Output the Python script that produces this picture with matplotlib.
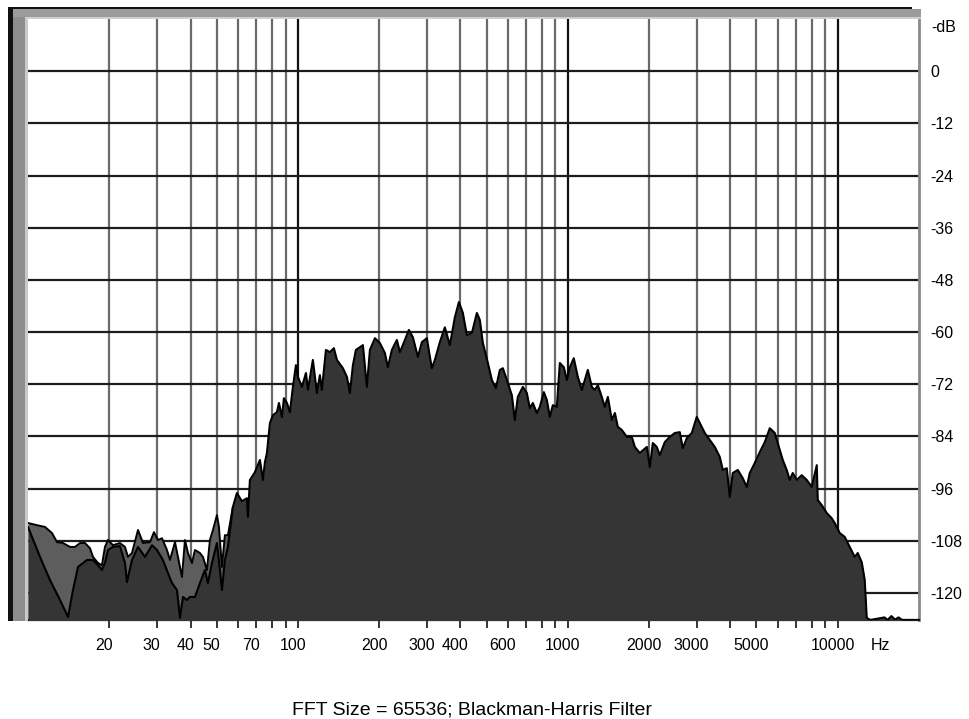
import matplotlib
matplotlib.use("Agg")
import matplotlib.pyplot as plt
import matplotlib.transforms as mtransforms
from matplotlib.patches import Rectangle
from matplotlib.ticker import NullLocator

plt.rcParams['font.family'] = ['Liberation Sans', 'DejaVu Sans']

# --- data (Hz / dB) ---
# main spectrum (dark fill)
freq = [10.0, 11.08, 12.06, 13.14, 14.07, 14.68, 15.32, 16.54, 17.41, 18.17,
        18.79, 19.28, 19.79, 20.65, 21.92, 22.87, 23.26, 24.28, 25.56, 27.13,
        28.80, 30.05, 31.62, 33.00, 34.15, 35.64, 36.56, 37.51, 38.81, 39.81,
        41.55, 43.36, 45.25, 46.42, 48.03, 50.12, 51.42, 52.30, 53.64, 55.04,
        57.43, 59.43, 62.02, 64.72, 65.28, 66.40, 69.30, 72.32, 74.19, 75.47,
        76.77, 78.76, 80.81, 83.62, 85.06, 87.26, 88.76, 91.06, 93.40, 95.83,
        98.31, 100.0, 103.5, 107.1, 108.9, 113.6, 115.6, 117.6, 120.6, 122.7,
        127.0, 131.4, 135.9, 139.5, 146.8, 151.9, 155.8, 159.9, 164.0, 174.1,
        180.1, 184.8, 192.9, 201.2, 210.0, 215.4, 222.9, 232.6, 238.7, 244.8,
        257.7, 266.7, 278.3, 288.0, 300.5, 308.3, 313.6, 321.7, 335.7, 350.3,
        365.6, 381.5, 394.8, 408.5, 422.6, 441.1, 460.3, 472.1, 484.4, 505.6,
        523.0, 541.2, 560.0, 574.5, 594.4, 620.3, 636.4, 652.8, 681.3, 704.9,
        723.2, 742.0, 767.7, 787.6, 814.9, 836.0, 857.7, 879.9, 910.5, 934.1,
        966.5, 991.5, 1017, 1052, 1089, 1127, 1156, 1186, 1227, 1259,
        1292, 1336, 1371, 1407, 1455, 1494, 1532, 1585, 1654, 1726,
        1771, 1848, 1962, 2013, 2065, 2136, 2192, 2287, 2387, 2491,
        2599, 2667, 2759, 2879, 3004, 3082, 3217, 3357, 3503, 3656,
        3751, 3881, 3981, 4084, 4263, 4448, 4603, 4722, 4927, 5142,
        5366, 5600, 5843, 5995, 6256, 6472, 6640, 6813, 7050, 7356,
        7678, 8012, 8361, 8432, 8726, 9105, 9501, 9747, 10172, 10615,
        11076, 11558, 11858, 12271, 12589, 12805, 13200, 14900, 15300, 15800,
        16300, 16800, 17300, 20000]
level = [-104.8, -111.7, -117.0, -121.6, -125.5, -119.3, -114.0, -112.4, -112.4, -113.6,
         -114.7, -113.1, -110.1, -109.4, -109.2, -113.1, -117.5, -112.4, -109.4, -111.7,
         -109.0, -110.1, -112.4, -115.4, -117.7, -119.3, -125.7, -120.9, -121.6, -120.9,
         -120.9, -117.7, -114.7, -117.7, -113.1, -108.5, -114.7, -119.3, -112.4, -109.4,
         -100.2, -97.0, -98.9, -98.2, -102.5, -94.0, -92.2, -89.4, -94.0, -89.9,
         -87.8, -80.9, -79.1, -78.4, -76.3, -79.5, -75.2, -76.3, -78.4, -72.6,
         -67.6, -70.3, -72.6, -69.4, -73.3, -66.4, -70.3, -74.0, -69.9, -73.3,
         -64.1, -64.6, -63.7, -66.4, -68.3, -70.3, -74.0, -67.6, -64.1, -63.0,
         -72.6, -64.1, -61.4, -62.5, -64.8, -68.1, -64.1, -61.8, -64.6, -63.0,
         -59.5, -61.2, -65.7, -62.3, -61.4, -65.7, -68.3, -66.4, -62.3, -58.9,
         -63.0, -56.6, -53.1, -55.6, -60.7, -60.2, -55.6, -57.2, -62.5, -67.1,
         -71.0, -72.9, -68.7, -68.3, -71.0, -74.5, -80.2, -74.9, -72.6, -74.0,
         -77.5, -76.3, -78.6, -77.2, -73.8, -75.6, -79.5, -76.8, -77.2, -67.1,
         -68.1, -71.0, -68.1, -66.0, -70.3, -73.3, -71.0, -68.7, -72.6, -73.3,
         -72.2, -74.9, -77.2, -74.9, -80.2, -78.6, -81.8, -82.5, -84.1, -84.1,
         -86.4, -87.8, -86.4, -91.0, -85.5, -86.4, -88.3, -85.3, -84.1, -83.2,
         -83.0, -86.7, -84.4, -83.2, -79.5, -80.9, -83.2, -84.8, -86.4, -88.7,
         -91.7, -91.3, -97.9, -92.4, -91.7, -93.6, -95.6, -92.4, -90.1, -87.6,
         -85.3, -82.1, -83.2, -85.5, -89.4, -91.7, -94.0, -92.4, -94.0, -92.9,
         -94.0, -95.6, -90.6, -98.6, -99.8, -101.6, -102.8, -103.9, -106.2, -107.1,
         -109.4, -111.7, -110.8, -112.9, -117.0, -125.7, -126.2, -125.6, -126.2, -125.3,
         -126.1, -125.6, -126.2, -126.2]

# peak trace (lighter fill), only separate from the main one below ~60 Hz
peak_freq = [10.0, 10.80, 11.56, 12.27, 12.81, 13.48, 14.31, 14.94, 15.58, 16.26,
             16.97, 17.41, 18.17, 18.79, 19.28, 19.79, 20.65, 21.92, 22.87, 23.46,
             24.28, 25.56, 26.67, 28.31, 29.29, 30.31, 31.36, 32.72, 33.57, 35.04,
             35.94, 37.19, 38.15, 39.14, 40.50, 41.55, 43.36, 44.48, 46.03, 47.21,
             48.44, 50.12, 50.98, 52.30, 53.64, 55.04, 57.43]
peak_level = [-103.9, -104.4, -104.8, -106.2, -108.3, -108.5, -109.4, -109.4, -108.5, -108.5,
              -109.7, -111.7, -113.1, -113.6, -109.4, -107.8, -109.0, -108.5, -109.4, -111.7,
              -110.8, -105.5, -108.5, -108.3, -106.0, -107.8, -107.4, -110.1, -112.4, -108.3,
              -111.7, -116.3, -107.8, -110.8, -113.1, -110.1, -110.8, -111.7, -114.7, -107.8,
              -105.5, -102.1, -104.8, -114.0, -106.7, -106.7, -100.2]

grid_freqs = [20, 30, 40, 50, 60, 70, 80, 90,
              100, 200, 300, 400, 500, 600, 700, 800, 900,
              1000, 2000, 3000, 4000, 5000, 6000, 7000, 8000, 9000, 10000]
labelled_freqs = [20, 30, 40, 50, 70, 100, 200, 300, 400, 600,
                  1000, 2000, 3000, 5000, 10000]
db_ticks = [0, -12, -24, -36, -48, -60, -72, -84, -96, -108, -120]
caption = "FFT Size = 65536; Blackman-Harris Filter"

W, H = 970, 719


def fig_rect(x0, y0, x1, y1, color):
    # rectangle given in image pixels (top-left origin)
    fig.add_artist(Rectangle((x0 / W, 1 - y1 / H), (x1 - x0) / W, (y1 - y0) / H,
                             transform=fig.transFigure, color=color, lw=0, zorder=5))


fig = plt.figure(figsize=(W / 100, H / 100), dpi=100)
ax = fig.add_axes([28 / W, 1 - 620 / H, (919 - 28) / W, (620 - 19) / H])
ax.set_xscale('log')
ax.set_xlim(10, 20000)
ax.set_ylim(-126.2, 12)

# grid, drawn by hand so decade lines can be darker
for f in grid_freqs:
    dark = f in (100, 1000, 10000)
    ax.axvline(f, color='#111111' if dark else '#6a6a6a', lw=1.6, zorder=1)
for d in db_ticks:
    ax.axhline(d, color='#1c1c1c', lw=1.6, zorder=1)

# spectrum
ax.fill_between(peak_freq, peak_level, -140, color='#5d5d5d', lw=0, zorder=2)
ax.plot(peak_freq, peak_level, color='black', lw=1.4, zorder=2.1)
ax.fill_between(freq, level, -140, color='#353535', lw=0, zorder=3)
ax.plot(freq, level, color='black', lw=1.5, zorder=3.1)

# ticks and labels
ax.xaxis.set_minor_locator(NullLocator())
ax.set_xticks(grid_freqs)
ax.set_xticklabels([str(f) if f in labelled_freqs else '' for f in grid_freqs])
ax.tick_params(axis='x', direction='out', length=6, width=1.1, pad=7,
               labelsize=11.5, colors='black')
shift = mtransforms.ScaledTranslation(-5 / 100, 0, fig.dpi_scale_trans)
for lab in ax.get_xticklabels():
    lab.set_transform(lab.get_transform() + shift)

ax.yaxis.tick_right()
ax.set_yticks(db_ticks)
ax.set_yticklabels([str(d) for d in db_ticks])
ax.tick_params(axis='y', length=0, pad=8, labelsize=11.5)
ax.text(1.0135, 10, '-dB', transform=mtransforms.blended_transform_factory(ax.transAxes, ax.transData),
        ha='left', va='center', fontsize=11.5)
fig.text(880 / W, 1 - 646 / H, 'Hz', ha='center', va='center', fontsize=11.5)

for side in ('left', 'top'):
    ax.spines[side].set_visible(False)
ax.spines['bottom'].set_color('black')
ax.spines['bottom'].set_linewidth(1.6)
ax.spines['right'].set_color('#8a8a8a')
ax.spines['right'].set_linewidth(2)

# window frame around the plot
fig_rect(8, 8, 13, 621, '#101010')
fig_rect(13, 9, 25, 621, '#8d8d8d')
fig_rect(25, 17, 28, 621, '#c9c9c9')
fig_rect(8, 7, 912, 9, '#111111')
fig_rect(13, 9, 921, 17, '#9b9b9b')
fig_rect(25, 17, 921, 19, '#cfcfcf')

fig.text(472 / W, 1 - 710 / H, caption, ha='center', va='center', fontsize=14)

fig.savefig('out.png', dpi=100)
